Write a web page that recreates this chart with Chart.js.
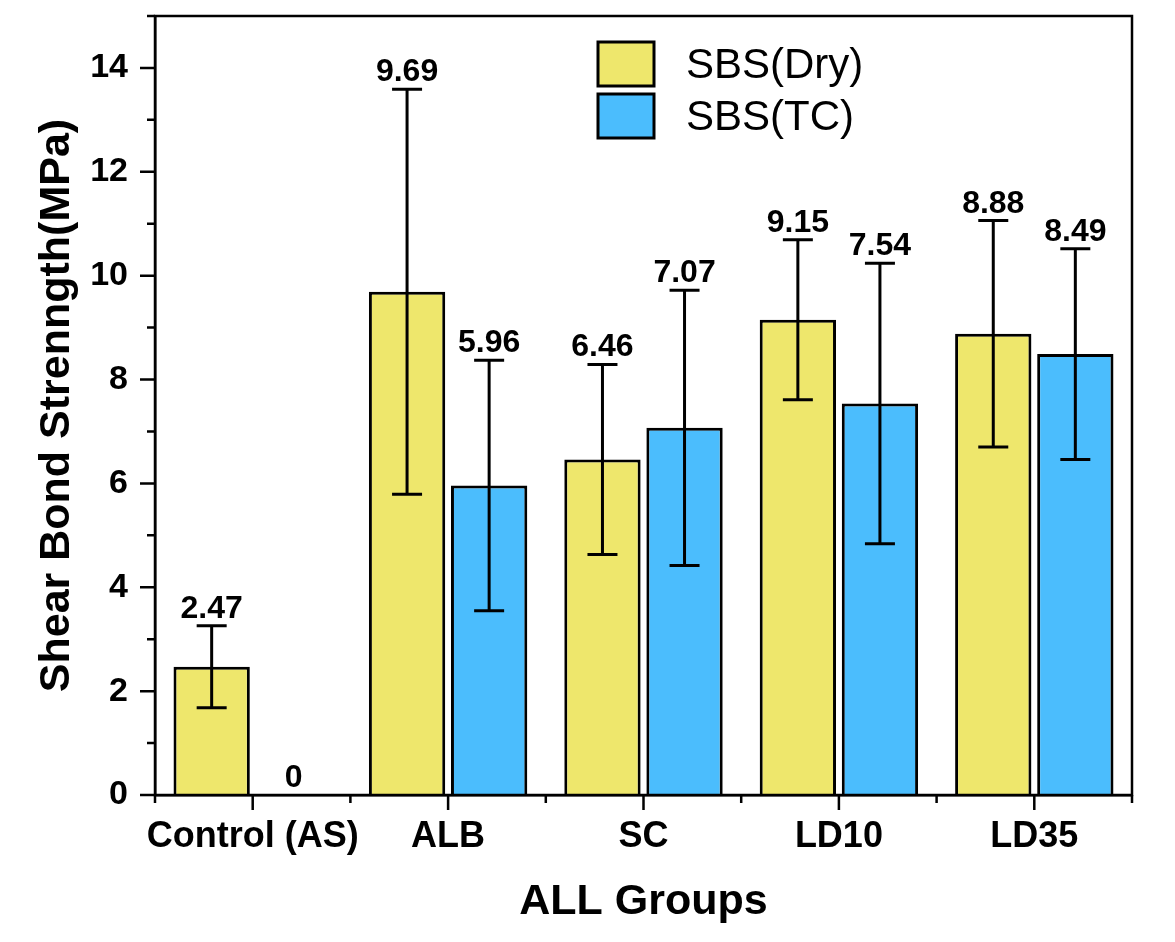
<!DOCTYPE html>
<html><head><meta charset="utf-8">
<script src="https://cdn.jsdelivr.net/npm/chart.js@4.4.0/dist/chart.umd.min.js"></script>
<style>html,body{margin:0;padding:0;background:#fff;} #wrap{width:1175px;height:942px;}</style>
</head><body><div id="wrap"><canvas id="c" width="1175" height="942"></canvas></div>
<script>
const categories = ['Control (AS)', 'ALB', 'SC', 'LD10', 'LD35'];
const seriesLabels = ['SBS(Dry)', 'SBS(TC)'];
const dryValues = [2.47, 9.69, 6.46, 9.15, 8.88];
const tcValues = [0, 5.96, 7.07, 7.54, 8.49];
const dryErrors = [0.79, 3.90, 1.83, 1.54, 2.18];
const tcErrors = [0, 2.41, 2.65, 2.70, 2.03];
const yTickValues = [0, 2, 4, 6, 8, 10, 12, 14];
const yMax = 15;

const FONT = "'Liberation Sans', Arial, Helvetica, sans-serif";
const YELLOW = '#EEE76C';
const BLUE = '#4BBDFD';

const decorPlugin = {
  id: 'decor',
  afterDatasetsDraw(chart) {
    const ctx = chart.ctx;
    const y = chart.scales.y;
    ctx.save();
    chart.data.datasets.forEach((ds, di) => {
      const meta = chart.getDatasetMeta(di);
      meta.data.forEach((el, i) => {
        const v = ds.data[i];
        const e = ds.errors[i];
        let topPix = y.getPixelForValue(v);
        if (e > 0) {
          const yt = y.getPixelForValue(v + e);
          const yb = y.getPixelForValue(v - e);
          ctx.strokeStyle = '#000';
          ctx.lineWidth = 3;
          ctx.lineCap = 'butt';
          ctx.beginPath();
          ctx.moveTo(el.x, yt); ctx.lineTo(el.x, yb);
          ctx.moveTo(el.x - 15, yt); ctx.lineTo(el.x + 15, yt);
          ctx.moveTo(el.x - 15, yb); ctx.lineTo(el.x + 15, yb);
          ctx.stroke();
          topPix = yt;
        }
        ctx.fillStyle = '#000';
        ctx.font = 'bold 32px ' + FONT;
        ctx.textAlign = 'center';
        ctx.textBaseline = 'alphabetic';
        ctx.fillText(String(v), el.x, topPix - 8);
      });
    });
    ctx.restore();
  },
  afterDraw(chart) {
    const ctx = chart.ctx;
    const a = chart.chartArea;
    const x = chart.scales.x;
    const y = chart.scales.y;
    ctx.save();
    ctx.strokeStyle = '#000';
    ctx.lineWidth = 2.5;
    ctx.strokeRect(a.left, a.top, a.right - a.left, a.bottom - a.top);
    ctx.beginPath();
    for (let v = 0; v <= yMax; v++) {
      const p = y.getPixelForValue(v);
      const len = yTickValues.includes(v) ? 15 : 8;
      ctx.moveTo(a.left, p); ctx.lineTo(a.left - len, p);
    }
    const n = categories.length;
    for (let i = 0; i < n; i++) {
      const p = x.getPixelForValue(i);
      ctx.moveTo(p, a.bottom); ctx.lineTo(p, a.bottom + 15);
    }
    const half = (x.getPixelForValue(1) - x.getPixelForValue(0)) / 2;
    for (let i = 0; i <= n; i++) {
      const p = x.getPixelForValue(0) - half + i * 2 * half;
      ctx.moveTo(p, a.bottom); ctx.lineTo(p, a.bottom + 8);
    }
    ctx.stroke();
    const boxes = [[598, 42], [598, 94]];
    chart.data.datasets.forEach((ds, di) => {
      const [bx, by] = boxes[di];
      ctx.fillStyle = ds.backgroundColor;
      ctx.fillRect(bx, by, 56, 44);
      ctx.lineWidth = 3;
      ctx.strokeStyle = '#000';
      ctx.strokeRect(bx, by, 56, 44);
      ctx.fillStyle = '#000';
      ctx.font = '42px ' + FONT;
      ctx.textAlign = 'left';
      ctx.textBaseline = 'middle';
      ctx.fillText(ds.label, 686, by + 24);
    });
    ctx.restore();
  }
};

new Chart(document.getElementById('c'), {
  type: 'bar',
  data: {
    labels: categories,
    datasets: [
      { label: seriesLabels[0], data: dryValues, errors: dryErrors, backgroundColor: YELLOW, borderColor: '#000', borderWidth: 3 },
      { label: seriesLabels[1], data: tcValues, errors: tcErrors, backgroundColor: BLUE, borderColor: '#000', borderWidth: 3 }
    ]
  },
  options: {
    responsive: false,
    animation: false,
    devicePixelRatio: 1,
    categoryPercentage: 0.84,
    barPercentage: 0.93,
    layout: { padding: { top: 16, right: 43, left: 0, bottom: 0 } },
    plugins: { legend: { display: false }, tooltip: { enabled: false } },
    scales: {
      x: {
        offset: true,
        grid: { display: false, drawTicks: false },
        border: { display: true, color: '#000', width: 2.5 },
        ticks: { color: '#000', font: { family: FONT, size: 36, weight: 'bold' }, padding: 20, maxRotation: 0, autoSkip: false },
        title: { display: true, text: 'ALL Groups', color: '#000', font: { family: FONT, size: 43, weight: 'bold' }, padding: { top: 0, bottom: 14 } },
        afterFit(s) { s.height = 147; s.paddingLeft = 0; s.paddingRight = 0; }
      },
      y: {
        min: 0, max: yMax,
        grid: { display: false, drawTicks: false },
        border: { display: true, color: '#000', width: 2.5 },
        ticks: { stepSize: 2, color: '#000', font: { family: FONT, size: 34, weight: 'bold' }, padding: 27 },
        afterBuildTicks(s) { s.ticks = yTickValues.map(v => ({ value: v })); },
        title: { display: true, text: 'Shear Bond Strenngth(MPa)', color: '#000', font: { family: FONT, size: 43, weight: 'bold' }, padding: { top: 31, bottom: 0 } },
        afterFit(s) { s.width = 155; s.paddingTop = 0; s.paddingBottom = 0; }
      }
    }
  },
  plugins: [decorPlugin]
});
</script>
</body></html>
